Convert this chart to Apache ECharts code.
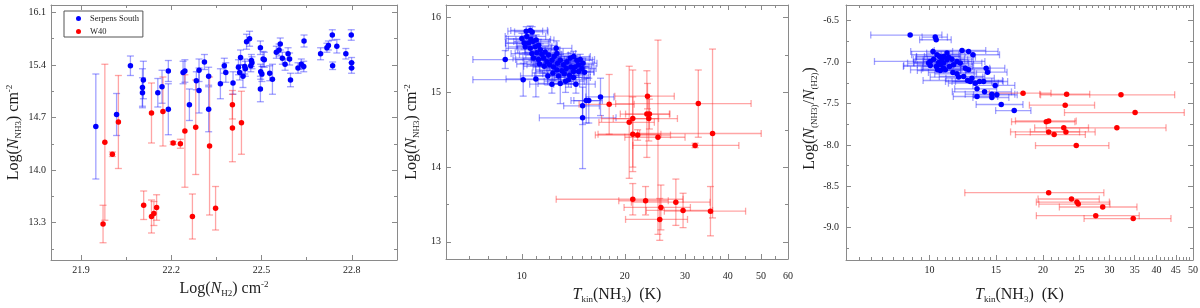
<!DOCTYPE html>
<html><head><meta charset="utf-8">
<script src="https://cdn.jsdelivr.net/npm/echarts@6/dist/echarts.min.js"></script>
<style>html,body{margin:0;padding:0;background:#fff}#c{width:1200px;height:308px}</style>
</head><body><div id="c"></div>
<script>
// ---------- tick labels ----------
const p1XLabels = [21.9, 22.2, 22.5, 22.8];
const p1XMinor = [22.05, 22.35, 22.65, 22.95];
const p1YLabels = [13.3, 14.0, 14.7, 15.4, 16.1];
const p1YMinor = [12.95, 13.65, 14.35, 15.05, 15.75];
const p2XLabels = [10, 20, 30, 40, 50, 60];
const p2XMinor = [7,8,9,11,12,13,14,15,16,17,18,19,22,24,26,28,32,34,36,38,45,55];
const p2YLabels = [13, 14, 15, 16];
const p2YMinor = [13.5, 14.5, 15.5];
const p3XLabels = [10, 15, 20, 25, 30, 35, 40, 45, 50];
const p3XMinor = [6.5,7,7.5,8,8.5,9,9.5,10.5,11,11.5,12,12.5,13,13.5,14,14.5,16,17,18,19,21,22,23,24,26,27,28,29,31,32,33,34,36,37,38,39,41,42,43,44,46,47,48,49];
const p3YLabels = [-6.5, -7.0, -7.5, -8.0, -8.5, -9.0];
const p3YMinor = [-6.75, -7.25, -7.75, -8.25, -8.75, -9.25];

// ---------- panel 1: [logN(H2), logN(NH3), err] ----------
const p1Serpens = [
[21.949,14.58,0.70],[22.018,14.74,0.28],[22.064,15.39,0.13],[22.104,15.10,0.25],[22.104,15.03,0.20],
[22.107,15.20,0.25],[22.155,15.03,0.19],[22.169,15.11,0.22],[22.190,15.32,0.14],[22.190,14.81,0.34],
[22.239,15.30,0.15],[22.245,15.32,0.15],[22.260,14.87,0.21],[22.283,15.19,0.12],[22.292,15.33,0.15],
[22.292,15.06,0.30],[22.310,15.44,0.10],[22.324,15.25,0.12],[22.324,14.81,0.30],[22.363,15.15,0.20],
[22.376,15.39,0.10],[22.381,15.30,0.13],[22.405,15.16,0.15],[22.423,15.37,0.10],[22.427,15.30,0.10],
[22.430,15.50,0.10],[22.438,15.25,0.15],[22.444,15.38,0.10],[22.446,15.35,0.10],[22.450,15.71,0.10],
[22.460,15.75,0.10],[22.464,15.39,0.08],[22.466,15.46,0.08],[22.468,15.43,0.08],[22.496,15.63,0.09],
[22.497,15.31,0.10],[22.501,15.28,0.10],[22.496,15.08,0.17],[22.505,15.48,0.10],[22.509,15.47,0.10],
[22.527,15.29,0.10],[22.536,15.21,0.20],[22.549,15.57,0.08],[22.558,15.60,0.08],[22.562,15.68,0.08],
[22.569,15.49,0.08],[22.578,15.41,0.08],[22.588,15.55,0.08],[22.593,15.48,0.08],[22.596,15.20,0.09],
[22.621,15.36,0.07],[22.632,15.41,0.07],[22.640,15.38,0.07],[22.641,15.72,0.08],[22.696,15.55,0.08],
[22.717,15.63,0.06],[22.722,15.66,0.06],[22.735,15.80,0.07],[22.736,15.39,0.05],[22.750,15.65,0.09],
[22.780,15.55,0.07],[22.798,15.80,0.07],[22.799,15.43,0.07],[22.799,15.36,0.07]
];
const p1W40 = [
[21.973,13.28,0.25],[21.979,14.37,1.04],[22.004,14.21,0.03],[22.024,14.64,0.62],[22.134,14.76,0.40],
[22.108,13.53,0.19],[22.134,13.38,0.22],[22.142,13.42,0.16],[22.151,13.50,0.17],[22.172,14.78,0.46],
[22.206,14.36,0.02],[22.230,14.35,0.06],[22.245,14.52,0.75],[22.270,13.38,0.30],[22.281,14.57,0.63],
[22.327,14.32,0.92],[22.347,13.49,0.29],[22.403,14.87,0.19],[22.403,14.56,0.45],[22.433,14.63,0.42]
];

// ---------- panel 2: [Tkin, logN(NH3), dT, dN] ----------
const p2Serpens = [
[8.94,15.44,1.75,0.12],[10.09,15.17,2.9,0.22],[10.99,15.18,2.0,0.24],[12.24,15.11,1.7,0.12],
[12.95,15.12,1.8,0.27],[13.42,15.15,1.8,0.15],[14.39,15.11,2.0,0.12],[15.25,15.27,1.0,0.08],
[11.91,15.22,2.0,0.12],[12.60,15.59,1.4,0.10],[15.05,14.82,1.8,0.25],[15.42,14.89,1.5,0.30],
[15.69,14.89,1.5,0.30],[16.98,14.94,1.6,0.25],[15.05,14.66,3.8,0.68],
[10.30,15.82,1.2,0.06],[10.58,15.83,1.3,0.06],[10.72,15.81,1.2,0.07],[10.00,15.72,1.0,0.07],
[10.34,15.75,1.4,0.08],[10.63,15.71,1.5,0.07],[10.16,15.66,1.2,0.08],[10.46,15.66,1.5,0.07],
[10.77,15.68,1.3,0.08],[11.01,15.70,1.4,0.07],[10.23,15.61,1.1,0.08],[10.58,15.59,1.6,0.08],
[10.94,15.61,1.3,0.07],[11.19,15.63,1.5,0.08],[11.32,15.57,1.6,0.08],[10.70,15.52,1.4,0.09],
[11.06,15.53,1.5,0.08],[11.44,15.51,1.6,0.08],[11.70,15.54,1.5,0.07],[11.97,15.50,1.7,0.08],
[10.82,15.46,1.4,0.10],[11.19,15.44,1.6,0.09],[11.57,15.46,1.5,0.08],[11.83,15.41,1.7,0.08],
[12.24,15.43,1.6,0.08],[12.43,15.48,1.8,0.09],[12.66,15.52,1.7,0.08],[11.26,15.38,1.6,0.10],
[11.62,15.35,1.5,0.09],[12.05,15.37,1.7,0.08],[12.38,15.34,1.6,0.09],[12.71,15.39,1.8,0.08],
[12.95,15.43,1.9,0.08],[13.24,15.37,1.7,0.08],[13.54,15.41,1.8,0.07],[13.85,15.46,1.9,0.07],
[14.16,15.48,1.7,0.07],[14.48,15.43,1.6,0.07],[14.81,15.44,1.5,0.07],[12.66,15.30,1.7,0.10],
[13.09,15.29,1.8,0.09],[13.48,15.32,1.7,0.08],[13.91,15.34,1.8,0.08],[14.32,15.34,1.7,0.07],
[14.65,15.37,1.6,0.07],[15.08,15.39,1.5,0.07],[12.32,15.26,1.6,0.10],[12.80,15.22,1.9,0.10],
[13.30,15.25,1.8,0.09],[13.79,15.23,1.9,0.08],[14.16,15.28,1.7,0.08],[14.65,15.28,1.6,0.08],
[14.98,15.32,1.5,0.07],[13.69,15.17,1.8,0.10],[14.16,15.20,1.7,0.09]
];
const p2W40 = [
[18.0,14.84,3.3,0.40],[23.3,14.95,4.6,0.17],[32.8,14.85,14.0,0.45],[21.1,14.65,4.0,0.65],
[23.2,14.71,3.8,0.58],[23.6,14.71,3.5,0.20],[23.5,14.65,5.0,0.30],[20.6,14.60,3.8,0.75],
[21.1,14.44,4.4,0.50],[21.8,14.43,5.4,0.07],[25.0,14.40,5.0,1.30],[36.1,14.45,14.0,1.13],
[32.1,14.29,11.0,0.03],
[21.1,13.57,8.5,0.21],[23.0,13.55,3.8,0.19],[28.2,13.53,7.3,0.31],[25.5,13.46,5.6,0.30],
[29.6,13.42,6.5,0.23],[35.6,13.41,9.5,0.33],[25.3,13.30,5.2,0.28]
];

// ---------- panel 3: [Tkin, log(N(NH3)/N(H2)), dT] ----------
const p3Serpens = [
[8.88,-6.673,1.9],[10.35,-6.698,0.8],[10.41,-6.73,1.0],[10.21,-6.871,1.3],[10.46,-6.911,1.5],
[10.63,-6.931,1.4],[10.78,-6.964,1.6],[10.25,-6.964,1.2],[10.04,-6.992,2.9],[10.57,-7.004,1.5],
[10.89,-7.012,1.8],[11.12,-6.972,1.5],[11.23,-6.94,2.0],[11.46,-6.964,1.6],[10.68,-7.032,1.4],
[10.42,-7.052,1.9],[10.89,-7.073,1.3],[11.30,-7.052,1.7],[11.58,-7.032,1.5],[11.82,-6.992,2.2],
[12.19,-6.859,1.9],[12.69,-6.871,2.5],[13.03,-6.911,2.3],[12.06,-7.012,1.7],[12.44,-7.073,2.0],
[12.69,-7.093,1.8],[11.53,-7.125,1.6],[11.82,-7.141,1.5],[11.94,-7.181,1.9],[12.31,-7.173,1.7],
[12.61,-7.222,3.0],[12.82,-7.234,1.8],[13.22,-7.254,2.0],[13.57,-7.234,2.1],[13.91,-7.234,2.2],
[12.95,-7.194,1.9],[14.13,-7.073,1.7],[14.25,-7.121,1.8],[14.93,-7.282,1.9],[13.36,-7.323,1.7],
[13.99,-7.359,2.5],[14.63,-7.387,2.2],[15.08,-7.395,2.0],[13.36,-7.415,1.8],[14.63,-7.427,1.6],
[15.49,-7.512,2.2],[16.77,-7.585,1.8],[10.68,-7.101,1.4],[11.01,-7.093,1.5],[10.50,-7.093,1.6],
[10.04,-7.04,1.5],[9.94,-7.012,1.2],[11.12,-6.891,1.3],[10.89,-6.931,1.2]
];
const p3W40 = [
[17.7,-7.375,3.3],[23.1,-7.387,3.5],[32.2,-7.395,12.5],[22.9,-7.52,4.5],[35.1,-7.609,12.3],
[20.4,-7.72,3.9],[20.7,-7.71,3.8],[22.7,-7.794,3.7],[31.4,-7.794,11.0],[20.7,-7.843,4.3],
[23.0,-7.843,4.5],[21.4,-7.875,4.5],[24.5,-8.008,5.4],
[20.7,-8.577,8.3],[23.8,-8.653,4.4],[24.6,-8.69,5.4],[24.8,-8.714,5.3],[28.8,-8.75,6.7],
[27.6,-8.855,8.4],[34.7,-8.89,9.0]
];

// ---------- styling ----------
const FONT = "'Liberation Serif', 'Times New Roman', serif";
const AX = '#8a8a8a';
const TXT = '#1e1e1e';
const BLUE = '#0000ff', RED = '#ff0000';
const BLUE_BAR = 'rgba(30,30,255,0.42)', RED_BAR = 'rgba(255,40,40,0.42)';

function richStyles(fs) {
  const sub = Math.round(fs * 0.58);
  return {
    a: {fontSize: fs, fontFamily: FONT, color: TXT, lineHeight: 22},
    i: {fontSize: fs, fontFamily: FONT, color: TXT, fontStyle: 'italic', lineHeight: 22},
    s: {fontSize: sub, fontFamily: FONT, color: TXT, lineHeight: 9, padding: [9, 0, 0, 0]},
    p: {fontSize: sub, fontFamily: FONT, color: TXT, lineHeight: 9, padding: [0, 0, 8, 0]}
  };
}

const xAxes = [], yAxes = [];
function addSet(list, dim, gi, min, max, majors, minors, fmt, margin, nameCfg) {
  const posA = dim === 'x' ? 'bottom' : 'left';
  const posB = dim === 'x' ? 'top' : 'right';
  const base = {type: 'value', gridIndex: gi, min: min, max: max, splitLine: {show: false}, scale: true};
  const line = {show: true, onZero: false, lineStyle: {color: AX, width: 1}};
  const first = list.length;
  list.push(Object.assign({}, base, {
    position: posA, axisLine: line,
    axisTick: {show: true, inside: true, length: 5, customValues: majors, lineStyle: {color: AX}},
    axisLabel: {show: true, customValues: majors, formatter: fmt, margin: margin, color: TXT, fontSize: 10, fontFamily: FONT}
  }, nameCfg || {}));
  list.push(Object.assign({}, base, {
    position: posA, axisLine: {show: false, onZero: false},
    axisTick: {show: true, inside: true, length: 3, customValues: minors, lineStyle: {color: AX}},
    axisLabel: {show: false}
  }));
  list.push(Object.assign({}, base, {
    position: posB, axisLine: line,
    axisTick: {show: true, inside: true, length: 5, customValues: majors, lineStyle: {color: AX}},
    axisLabel: {show: false}
  }));
  list.push(Object.assign({}, base, {
    position: posB, axisLine: {show: false, onZero: false},
    axisTick: {show: true, inside: true, length: 3, customValues: minors, lineStyle: {color: AX}},
    axisLabel: {show: false}
  }));
  return first;
}
const lg = v => Math.log10(v);
const fmt1 = v => v.toFixed(1);
const fmt0 = v => String(Math.round(v));
const fmtPow = v => String(Math.round(Math.pow(10, v)));

function xName(text, gap) {
  return {name: text, nameLocation: 'middle', nameGap: gap,
    nameTextStyle: {fontFamily: FONT, fontSize: 16, color: TXT, rich: richStyles(16)}};
}
function yName(text, gap, pad) {
  return {name: text, nameLocation: 'middle', nameGap: gap,
    nameTextStyle: {fontFamily: FONT, fontSize: 16, color: TXT, rich: richStyles(16), padding: pad || 0}};
}

// panel 1
const x1 = addSet(xAxes, 'x', 0, 21.8, 22.95, p1XLabels, p1XMinor, fmt1, 5,
  xName('{a|Log(}{i|N}{s|H2}{a|) cm}{p|-2}', 16));
const y1 = addSet(yAxes, 'y', 0, 12.8, 16.2, p1YLabels, p1YMinor, fmt1, 5,
  yName('{a|Log(}{i|N}{s|NH3}{a|) cm}{p|-2}', 26));
// panel 2
addSet(xAxes, 'x', 1, lg(6), lg(60), p2XLabels.map(lg), p2XMinor.map(lg), fmtPow, 12,
  xName('{i|T}{s|kin}{a|(NH}{s|3}{a|)  (K)}', 24));
const y2 = addSet(yAxes, 'y', 1, 12.77, 16.17, p2YLabels, p2YMinor, fmt0, 5,
  yName('{a|Log(}{i|N}{s|NH3}{a|) cm}{p|-2}', 23));
const x2 = xAxes.length;
xAxes.push({type: 'log', logBase: 10, gridIndex: 1, min: 6, max: 60, show: false});
// panel 3
addSet(xAxes, 'x', 2, lg(6), lg(50), p3XLabels.map(lg), p3XMinor.map(lg), fmtPow, 5,
  xName('{i|T}{s|kin}{a|(NH}{s|3}{a|)  (K)}', 24));
const y3 = addSet(yAxes, 'y', 2, -9.39, -6.31, p3YLabels, p3YMinor, fmt1, 7,
  yName('{a|Log(}{i|N}{s|(NH3)}{a|/}{i|N}{s|(H2)}{a|)}', 25, [0, 0, 0, 28]));
const x3 = xAxes.length;
xAxes.push({type: 'log', logBase: 10, gridIndex: 2, min: 6, max: 50, show: false});

function errBars(color, cap) {
  return function (params, api) {
    const x = api.value(0), y = api.value(1), ex = api.value(2), ey = api.value(3);
    const ch = [];
    const seg = (a, b) => ch.push({type: 'line', shape: {x1: a[0], y1: a[1], x2: b[0], y2: b[1]},
      style: {stroke: color, lineWidth: 1.3, fill: null}});
    if (ex > 0) {
      const l = api.coord([x - ex, y]), r = api.coord([x + ex, y]);
      seg(l, r);
      seg([l[0], l[1] - cap], [l[0], l[1] + cap]);
      seg([r[0], r[1] - cap], [r[0], r[1] + cap]);
    }
    if (ey > 0) {
      const t = api.coord([x, y + ey]), b = api.coord([x, y - ey]);
      seg(t, b);
      seg([t[0] - cap, t[1]], [t[0] + cap, t[1]]);
      seg([b[0] - cap, b[1]], [b[0] + cap, b[1]]);
    }
    return {type: 'group', children: ch};
  };
}
function errSeries(data, xi, yi, color) {
  return {type: 'custom', xAxisIndex: xi, yAxisIndex: yi, renderItem: errBars(color, 3.5),
    data: data, encode: {x: 0, y: 1}, clip: true, silent: true, z: 2};
}
function ptSeries(name, data, xi, yi, color) {
  return {type: 'scatter', name: name, xAxisIndex: xi, yAxisIndex: yi, symbol: 'circle', symbolSize: 5.5,
    itemStyle: {color: color, opacity: 1}, data: data, z: 5, silent: true};
}

const series = [
  errSeries(p1Serpens.map(d => [d[0], d[1], 0, d[2]]), x1, y1, BLUE_BAR),
  errSeries(p1W40.map(d => [d[0], d[1], 0, d[2]]), x1, y1, RED_BAR),
  ptSeries('Serpens South', p1Serpens.map(d => [d[0], d[1]]), x1, y1, BLUE),
  ptSeries('W40', p1W40.map(d => [d[0], d[1]]), x1, y1, RED),
  errSeries(p2Serpens, x2, y2, BLUE_BAR),
  errSeries(p2W40, x2, y2, RED_BAR),
  ptSeries('Serpens South', p2Serpens.map(d => [d[0], d[1]]), x2, y2, BLUE),
  ptSeries('W40', p2W40.map(d => [d[0], d[1]]), x2, y2, RED),
  errSeries(p3Serpens.map(d => [d[0], d[1], d[2], 0]), x3, y3, BLUE_BAR),
  errSeries(p3W40.map(d => [d[0], d[1], d[2], 0]), x3, y3, RED_BAR),
  ptSeries('Serpens South', p3Serpens.map(d => [d[0], d[1]]), x3, y3, BLUE),
  ptSeries('W40', p3W40.map(d => [d[0], d[1]]), x3, y3, RED)
];

const chart = echarts.init(document.getElementById('c'), null, {renderer: 'canvas'});
chart.setOption({
  animation: false,
  backgroundColor: '#ffffff',
  grid: [
    {left: 51, top: 5, width: 346, height: 255, containLabel: false, outerBoundsMode: 'none'},
    {left: 446, top: 5, width: 342, height: 254, containLabel: false, outerBoundsMode: 'none'},
    {left: 846, top: 5, width: 347, height: 255, containLabel: false, outerBoundsMode: 'none'}
  ],
  legend: {
    left: 64, top: 11, orient: 'vertical', icon: 'circle', itemWidth: 5, itemHeight: 5, itemGap: 4,
    padding: [3, 4, 1, 12], borderColor: '#555', borderWidth: 1, borderRadius: 0,
    textStyle: {fontFamily: FONT, fontSize: 8.5, color: TXT, padding: [0, 0, 0, 4]},
    data: ['Serpens South', 'W40'], selectedMode: false
  },
  xAxis: xAxes,
  yAxis: yAxes,
  series: series
});
</script>
</body></html>
